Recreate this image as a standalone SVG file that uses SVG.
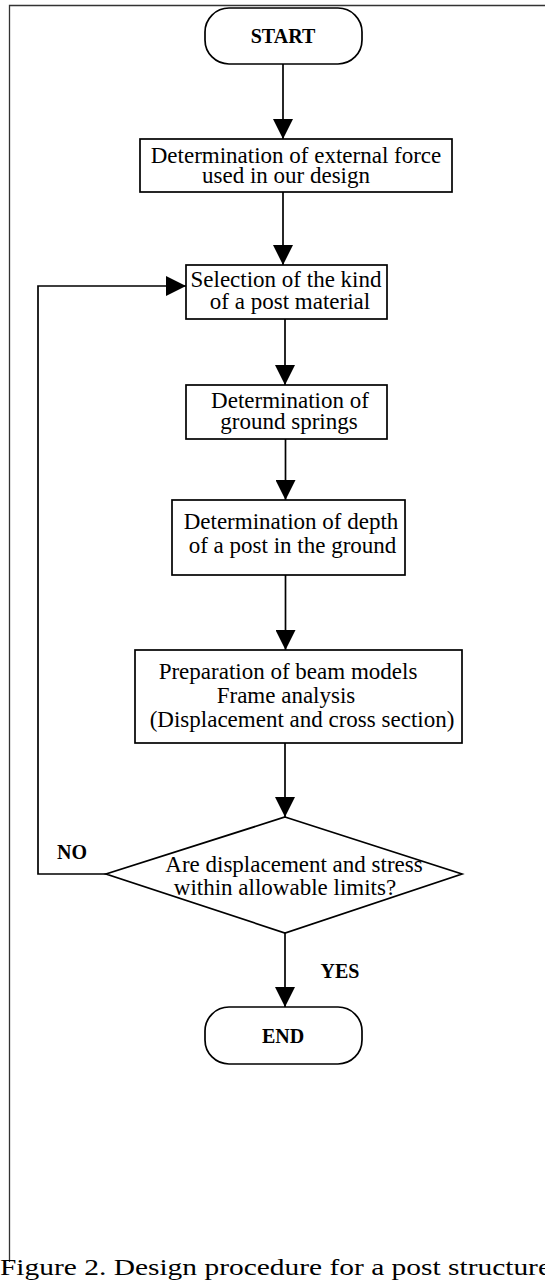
<svg xmlns="http://www.w3.org/2000/svg" width="545" height="1282" viewBox="0 0 545 1282">
<style>
.shape{fill:#fff;stroke:#000;stroke-width:1.7}
.t{font-family:"Liberation Serif","Times New Roman",serif;font-size:23px;fill:#000;text-anchor:middle}
.b{font-family:"Liberation Serif","Times New Roman",serif;font-size:20px;font-weight:bold;fill:#000;text-anchor:middle}
.conn{fill:none;stroke:#000;stroke-width:1.7}
</style>
<defs>
<marker id="ah" markerUnits="userSpaceOnUse" markerWidth="20" markerHeight="20" refX="20" refY="10" orient="auto">
<path d="M0,0 L20,10 L0,20 Z" fill="#000"/>
</marker>
</defs>
<rect width="545" height="1282" fill="#fff"/>
<g id="frame"><path d="M9.5,1262 V5.5 H545" fill="none" stroke="#333" stroke-width="1.3"/></g>
<g id="start"><rect class="shape" x="205" y="8" width="157" height="56" rx="24"/><text class="b" x="283" y="43">START</text></g>
<g id="box1"><rect class="shape" x="140" y="139" width="312" height="53"/><text class="t" x="296" y="163">Determination of external force</text><text class="t" x="286" y="183">used in our design</text></g>
<g id="box2"><rect class="shape" x="186" y="265" width="201" height="54"/><text class="t" x="286" y="287">Selection of the kind</text><text class="t" x="290" y="309">of a post material</text></g>
<g id="box3"><rect class="shape" x="186" y="385" width="201" height="54"/><text class="t" x="290" y="408">Determination of</text><text class="t" x="289" y="429">ground springs</text></g>
<g id="box4"><rect class="shape" x="172" y="500" width="233" height="75"/><text class="t" x="291" y="529">Determination of depth</text><text class="t" x="292.5" y="553">of a post in the ground</text></g>
<g id="box5"><rect class="shape" x="135" y="650" width="327" height="93"/><text class="t" x="288" y="679">Preparation of beam models</text><text class="t" x="286" y="703">Frame analysis</text><text class="t" x="302" y="727">(Displacement and cross section)</text></g>
<g id="decision"><polygon class="shape" points="285,817 462,874 285,933 106,874"/><text class="t" x="294" y="872">Are displacement and stress</text><text class="t" x="285" y="895">within allowable limits?</text></g>
<g id="end"><rect class="shape" x="205" y="1007" width="157" height="57" rx="24"/><text class="b" x="283" y="1043">END</text></g>
<g id="connectors">
<line class="conn" x1="283" y1="64" x2="283" y2="139" marker-end="url(#ah)"/>
<line class="conn" x1="283" y1="192" x2="283" y2="265" marker-end="url(#ah)"/>
<line class="conn" x1="285" y1="319" x2="285" y2="385" marker-end="url(#ah)"/>
<line class="conn" x1="285.5" y1="439" x2="285.5" y2="500" marker-end="url(#ah)"/>
<line class="conn" x1="285.5" y1="575" x2="285.5" y2="650" marker-end="url(#ah)"/>
<line class="conn" x1="285" y1="743" x2="285" y2="817" marker-end="url(#ah)"/>
<line class="conn" x1="285" y1="933" x2="285" y2="1007" marker-end="url(#ah)"/>
<path class="conn" d="M106,874 H38 V286 H186" marker-end="url(#ah)"/>
<text class="b" x="72" y="859">NO</text>
<text class="b" x="340" y="978">YES</text>
</g>
<g id="caption"><text x="0" y="1275" font-family="Liberation Serif,'Times New Roman',serif" font-size="23" textLength="551" lengthAdjust="spacingAndGlyphs" fill="#000">Figure 2. Design procedure for a post structure</text></g>
</svg>
